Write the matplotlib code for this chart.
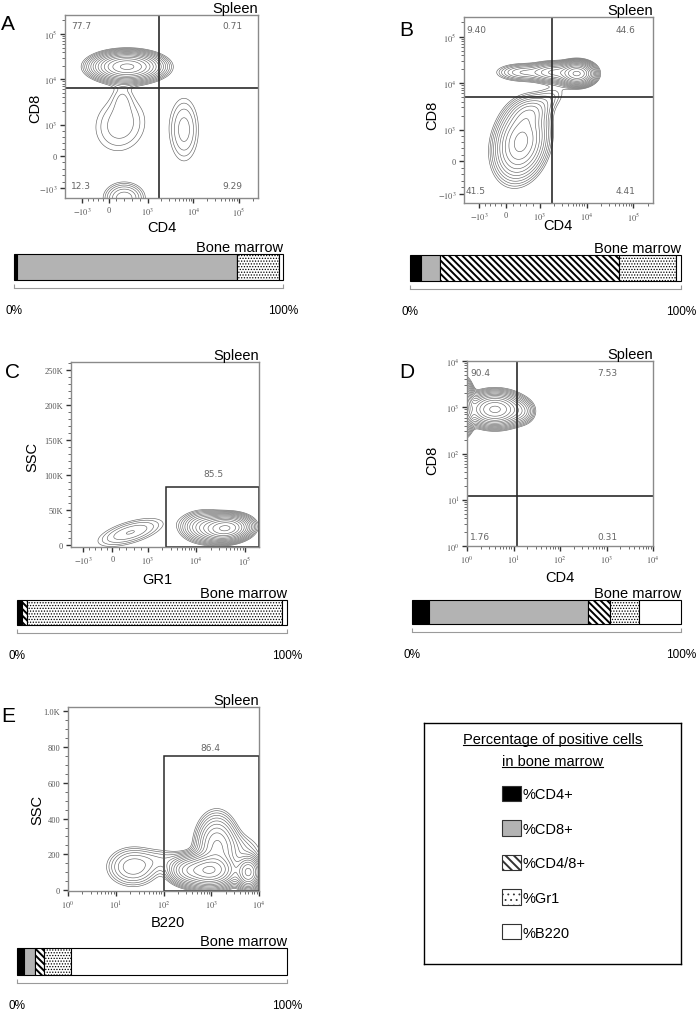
import numpy as np
import matplotlib
matplotlib.use('Agg')
import matplotlib.pyplot as plt
from matplotlib.patches import Patch, Rectangle
from matplotlib.ticker import FixedLocator, NullFormatter

plt.rcParams['font.family'] = ['Liberation Sans', 'DejaVu Sans']
plt.rcParams['mathtext.fontset'] = 'stix'
plt.rcParams['hatch.linewidth'] = 1.3

# ---- data ----
categories = ['%CD4+', '%CD8+', '%CD4/8+', '%Gr1', '%B220']
bm_A = [1.2, 81.7, 0.0, 15.6, 1.5]
bm_B = [3.9, 7.2, 65.9, 21.2, 1.8]
bm_C = [1.6, 0.3, 1.8, 94.6, 1.7]
bm_D = [6.2, 59.1, 8.2, 11.0, 15.5]
bm_E = [2.7, 4.1, 3.1, 10.1, 80.0]

# quadrant percentages: upper-left, upper-right, lower-left, lower-right
quad_A = ['77.7', '0.71', '12.3', '9.29']
quad_B = ['9.40', '44.6', '41.5', '4.41']
quad_D = ['90.4', '7.53', '1.76', '0.31']
gate_C = '85.5'
gate_E = '86.4'

# gate positions (data units)
gates_A = (1750, 6500)
gates_B = (1850, 5100)
gates_D = (12, 12)
rect_C = (2400, 195000, -2900, 83000)
rect_E = (100, 10000, -5, 750)

# population blobs: center x, center y (data), width x, width y (channel units), rho, peak
blobs_A = [(475, 19000, 0.36, 0.15, 0.0, 1.0),
           (300, 1000, 0.42, 0.45, 0.1, 0.045),
           (350, 4000, 0.15, 0.25, 0.0, 0.022),
           (6300, 840, 0.22, 0.48, 0.0, 0.056),
           (400, -1300, 0.25, 0.19, 0.0, 0.11)]
blobs_B = [(6300, 16000, 0.18, 0.12, 0.0, 1.0),
           (2000, 17000, 0.25, 0.11, 0.0, 0.3),
           (500, 17000, 0.30, 0.10, 0.0, 0.12),
           (440, 600, 0.28, 0.40, 0.2, 0.45),
           (700, 2300, 0.22, 0.18, 0.2, 0.12),
           (1500, 4500, 0.25, 0.20, 0.5, 0.04)]
blobs_C = [(41000, 24000, 0.24, 9000, 0.1, 1.0),
           (15000, 26000, 0.25, 11000, 0.0, 0.25),
           (510, 18000, 0.43, 13000, 0.6, 0.07)]
blobs_D = [(4, 900, 0.28, 0.17, 0.0, 1.0),
           (0.85, 1000, 0.10, 0.25, 0.0, 0.9),
           (15, 800, 0.15, 0.14, 0.0, 0.1)]
blobs_E = [(23, 130, 0.30, 60, 0.0, 0.12),
           (900, 110, 0.28, 45, 0.0, 1.0),
           (1300, 250, 0.22, 90, 0.0, 0.3),
           (6000, 100, 0.13, 45, 0.0, 0.6),
           (3000, 220, 0.35, 60, 0.0, 0.06),
           (100, 170, 0.30, 40, 0.0, 0.04),
           (300, 110, 0.20, 40, 0.0, 0.3)]

biex_ticks = [-1e3, 0, 1e3, 1e4, 1e5]
biex_labels = ['$-10^3$', '0', '$10^3$', '$10^4$', '$10^5$']
biex_minor = ([-800, -600, -400, -200, 200, 400, 600, 800]
              + [k * 10 ** d for d in (3, 4, 5) for k in range(2, 10) if k * 10 ** d < 262144])
log_ticks = [1, 10, 100, 1e3, 1e4]
log_labels = ['$10^0$', '$10^1$', '$10^2$', '$10^3$', '$10^4$']
log_minor = [k * 10 ** d for d in range(4) for k in range(2, 10)]
ssc_ticks = [0, 50000, 100000, 150000, 200000, 250000]
ssc_labels = ['0', '50K', '100K', '150K', '200K', '250K']
ssc2_ticks = [0, 200, 400, 600, 800, 1000]
ssc2_labels = ['0', '200', '400', '600', '800', '1.0K']

W, H = 700, 1012
fig = plt.figure(figsize=(7, 10.12), dpi=100)


def box(x0, y0, x1, y1):
    return [x0 / W, 1 - y1 / H, (x1 - x0) / W, (y1 - y0) / H]


def biex(neg, lin):
    def fwd(v):
        v = np.asarray(v, dtype=float)
        hi = lin + np.log10(np.maximum(v, 1e3) / 1e3)
        return np.where(v >= 1e3, hi, np.where(v >= 0, lin * v / 1e3, neg * v / 1e3))

    def inv(c):
        c = np.asarray(c, dtype=float)
        hi = 1e3 * 10 ** np.clip(c - lin, 0, 12)
        return np.where(c >= lin, hi, np.where(c >= 0, c / lin * 1e3, c / neg * 1e3))
    return ('biex', fwd, inv)


LOG = ('log', lambda v: np.log10(np.asarray(v, dtype=float)), lambda c: 10 ** np.asarray(c))
LIN = ('linear', lambda v: np.asarray(v, dtype=float), lambda c: np.asarray(c, dtype=float))


def set_scale(ax, axis, ch):
    setter = ax.set_xscale if axis == 'x' else ax.set_yscale
    if ch[0] == 'biex':
        setter('function', functions=(ch[1], ch[2]))
    elif ch[0] == 'log':
        setter('log')


def flow_panel(rect, letter, letter_xy, xch, ych, xlim, ylim, blobs,
               xt, yt, xlabel, ylabel, xl_xy, yl_xy):
    ax = fig.add_axes(box(*rect))
    set_scale(ax, 'x', xch)
    set_scale(ax, 'y', ych)

    # density surface on a grid uniform in channel space
    u = np.linspace(*xch[1](np.array(xlim)), 300)
    w = np.linspace(*ych[1](np.array(ylim)), 300)
    U, V = np.meshgrid(u, w)
    Z = np.zeros_like(U)
    for cx, cy, sx, sy, rho, peak in blobs:
        dx = (U - xch[1](cx)) / sx
        dy = (V - ych[1](cy)) / sy
        Z += peak * np.exp(-(dx ** 2 - 2 * rho * dx * dy + dy ** 2) / (2 * (1 - rho ** 2)))
    levels = np.geomspace(0.02, 0.92, 14) * Z.max()
    ax.contour(xch[2](U), ych[2](V), Z, levels=levels, colors='#666666', linewidths=0.45)

    ax.set_xlim(xlim)
    ax.set_ylim(ylim)
    ax.set_xticks(xt[0], xt[1])
    ax.set_yticks(yt[0], yt[1])
    ax.xaxis.set_minor_locator(FixedLocator(xt[2]))
    ax.yaxis.set_minor_locator(FixedLocator(yt[2]))
    ax.xaxis.set_minor_formatter(NullFormatter())
    ax.yaxis.set_minor_formatter(NullFormatter())
    ax.tick_params(which='major', length=3.5, width=1.0, color='#333333',
                   labelsize=6, labelcolor='#555555', pad=2)
    ax.tick_params(which='minor', length=2, width=0.6, color='#555555')
    for lab in ax.get_xticklabels() + ax.get_yticklabels():
        lab.set_family(['Liberation Serif', 'DejaVu Serif'])
    for s in ax.spines.values():
        s.set_color('#8a8a8a')
        s.set_linewidth(1.0)

    ax.set_title('Spleen', loc='right', fontsize=10.5, pad=2)
    ax.set_xlabel(xlabel, fontsize=10.5)
    ax.set_ylabel(ylabel, fontsize=10.5)
    ax.xaxis.label.set_va('center')
    ax.yaxis.label.set_va('center')
    ax.xaxis.set_label_coords(*xl_xy)
    ax.yaxis.set_label_coords(*yl_xy)
    fig.text(letter_xy[0] / W, 1 - letter_xy[1] / H, letter, fontsize=15,
             ha='center', va='center')
    return ax


def quadrants(ax, gates, labels, xl, xr, yt, yb):
    ax.axvline(gates[0], color='#2a2a2a', lw=1.2)
    ax.axhline(gates[1], color='#2a2a2a', lw=1.2)
    spots = [(xl, yt, 'left'), (xr, yt, 'right'), (xl, yb, 'left'), (xr, yb, 'right')]
    for (x, y, ha), txt in zip(spots, labels):
        ax.text(x, y, txt, transform=ax.transAxes, ha=ha, va='center',
                fontsize=6.5, color='#666666', family='DejaVu Sans')


def rect_gate(ax, r, label, lx, ly):
    x0, x1, y0, y1 = r
    ax.add_patch(Rectangle((x0, y0), x1 - x0, y1 - y0, fill=False,
                           edgecolor='#2a2a2a', lw=1.1))
    ax.text(lx, ly, label, transform=ax.transAxes, ha='center', va='center',
            fontsize=6.5, color='#666666', family='DejaVu Sans')


# fill, hatch, hatch line width
styles = [('black', '', 1.3), ('#b3b3b3', '', 1.3), ('white', '\\\\\\\\\\', 1.4),
          ('white', '......', 0.6), ('white', '', 1.3)]


def thin_hatch(patch, lw):
    if hasattr(patch, 'set_hatch_linewidth'):
        patch.set_hatch_linewidth(lw)


def bone_marrow_bar(rect, values):
    ax = fig.add_axes(box(*rect))
    left = 0
    for val, (fc, hatch, hlw) in zip(values, styles):
        with plt.rc_context({'hatch.linewidth': hlw}):
            bars = ax.barh(0.5, val, left=left, height=1, color=fc, hatch=hatch,
                           edgecolor='black', lw=0.8, clip_on=False)
        for b in bars:
            thin_hatch(b, hlw)
        left += val
    ax.set_xlim(0, 100)
    ax.set_ylim(0, 1)
    ax.set_title('Bone marrow', loc='right', fontsize=10.5, pad=1)
    for s in ['top', 'left', 'right']:
        ax.spines[s].set_visible(False)
    ax.spines['bottom'].set_position(('outward', 6))
    ax.spines['bottom'].set_color('#9a9a9a')
    ax.set_yticks([])
    ax.set_xticks([0, 100], ['0%', '100%'])
    ax.tick_params(axis='x', direction='in', length=3, color='#9a9a9a', pad=11,
                   labelsize=8.5)


# ---- panel A ----
chA = (biex(0.58, 0.85), biex(0.72, 0.68))
axA = flow_panel((65, 16, 258, 199), 'A', (8, 25), chA[0], chA[1],
                 (-1650, 262144), (-1300, 262144), blobs_A,
                 (biex_ticks, biex_labels, biex_minor), (biex_ticks, biex_labels, biex_minor),
                 'CD4', 'CD8', (0.503, -0.158), (-0.155, 0.497))
quadrants(axA, gates_A, quad_A, 0.03, 0.92, 0.94, 0.066)
bone_marrow_bar((14, 255, 283, 281), bm_A)

# ---- panel B ----
chB = (biex(0.57, 0.72), biex(0.71, 0.67))
axB = flow_panel((464, 18, 653, 204), 'B', (406, 30), chB[0], chB[1],
                 (-1580, 262144), (-1270, 262144), blobs_B,
                 (biex_ticks, biex_labels, biex_minor), (biex_ticks, biex_labels, biex_minor),
                 'CD4', 'CD8', (0.497, -0.118), (-0.169, 0.478))
quadrants(axB, gates_B, quad_B, 0.01, 0.905, 0.935, 0.065)
bone_marrow_bar((410, 256, 681, 282), bm_B)

# ---- panel C ----
axC = flow_panel((71, 363, 259, 548), 'C', (12, 372), biex(0.6, 0.72), LIN,
                 (-1420, 195000), (-2900, 262144), blobs_C,
                 (biex_ticks, biex_labels, biex_minor),
                 (ssc_ticks, ssc_labels, list(range(10000, 260001, 10000))),
                 'GR1', 'SSC', (0.457, -0.173), (-0.207, 0.492))
rect_gate(axC, rect_C, gate_C, 0.755, 0.395)
bone_marrow_bar((17, 601, 287, 626), bm_C)

# ---- panel D ----
axD = flow_panel((467, 362, 653, 547), 'D', (407, 373), LOG, LOG,
                 (1, 1e4), (1, 1e4), blobs_D,
                 (log_ticks, log_labels, log_minor), (log_ticks, log_labels, log_minor),
                 'CD4', 'CD8', (0.5, -0.168), (-0.188, 0.47))
quadrants(axD, gates_D, quad_D, 0.016, 0.81, 0.94, 0.054)
bone_marrow_bar((412, 601, 681, 625), bm_D)

# ---- panel E ----
axE = flow_panel((68, 708, 259, 892), 'E', (8, 716), LOG, LIN,
                 (1, 1e4), (-5, 1024), blobs_E,
                 (log_ticks, log_labels, log_minor),
                 (ssc2_ticks, ssc2_labels, list(range(50, 1001, 50))),
                 'B220', 'SSC', (0.524, -0.168), (-0.162, 0.446))
rect_gate(axE, rect_E, gate_E, 0.745, 0.78)
bone_marrow_bar((17, 949, 287, 976), bm_E)

# ---- legend box ----
lax = fig.add_axes(box(424, 724, 681, 965))
lax.set_xticks([])
lax.set_yticks([])
for s in lax.spines.values():
    s.set_color('black')
    s.set_linewidth(1.0)
t1 = lax.text(0.5, 0.934, 'Percentage of positive cells', ha='center', va='center', fontsize=10.5)
t2 = lax.text(0.5, 0.842, 'in bone marrow', ha='center', va='center', fontsize=10.5)
leg_hatch = ['', '', '\\\\\\\\', '...', '']
handles = []
for c, (fc, _, hlw), h in zip(categories, styles, leg_hatch):
    with plt.rc_context({'hatch.linewidth': hlw}):
        p = Patch(facecolor=fc, edgecolor='#333333', hatch=h, lw=0.8, label=c)
    thin_hatch(p, hlw)
    handles.append(p)
leg = lax.legend(handles=handles, loc='upper left', bbox_to_anchor=(0.305, 0.74),
                 frameon=False, fontsize=10.5, handlelength=1.25, handleheight=1.25,
                 handletextpad=0.15, labelspacing=1.3, borderpad=0, borderaxespad=0)
for p, (_, _, hlw) in zip(leg.get_patches(), styles):
    thin_hatch(p, hlw)

fig.canvas.draw()
r = fig.canvas.get_renderer()
for t in (t1, t2):
    bb = t.get_window_extent(r).transformed(lax.transAxes.inverted())
    lax.plot([bb.x0, bb.x1], [bb.y0 + 0.004] * 2, color='black', lw=0.8)
lax.set_xlim(0, 1)
lax.set_ylim(0, 1)

fig.savefig('out.png', dpi=100)
